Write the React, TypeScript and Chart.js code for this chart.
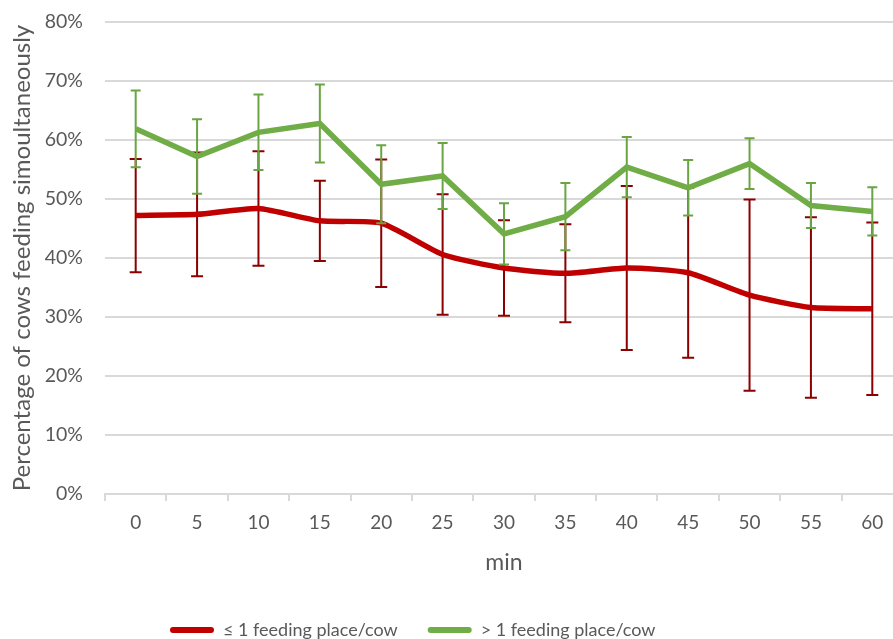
import React, { useEffect, useRef } from "react";
import { Chart, registerables } from "chart.js";

Chart.register(...registerables);

// ---- data ----
const minutes = ["0", "5", "10", "15", "20", "25", "30", "35", "40", "45", "50", "55", "60"];
const lowPlaceName = "≤ 1 feeding place/cow";
const highPlaceName = "> 1 feeding place/cow";
// percentage of cows feeding simultaneously (mean) and error (±)
const lowPlaceMean = [47.2, 47.4, 48.4, 46.3, 45.9, 40.6, 38.3, 37.4, 38.3, 37.5, 33.7, 31.6, 31.4];
const lowPlaceErr = [9.6, 10.5, 9.7, 6.8, 10.8, 10.2, 8.1, 8.3, 13.9, 14.4, 16.2, 15.3, 14.6];
const highPlaceMean = [61.9, 57.2, 61.3, 62.8, 52.5, 53.9, 44.1, 47.0, 55.4, 51.9, 56.0, 48.9, 47.9];
const highPlaceErr = [6.5, 6.3, 6.4, 6.6, 6.6, 5.6, 5.2, 5.7, 5.1, 4.7, 4.3, 3.8, 4.1];
const yMin = 0;
const yMax = 80;
const yStep = 10;

const FONT = "Lato, 'Open Sans', sans-serif";
const TEXT = "#595959";
const GRID = "#d9d9d9";
const RED = "#c00000";
const RED_ERR = "#8b0000";
const GREEN = "#70ad47";
const GREEN_ERR = "#6aa544";

const errorBarPlugin = {
  id: "errorBars",
  beforeDatasetDraw(chart: any, args: any) {
    const ds: any = chart.data.datasets[args.index];
    const errs: number[] | undefined = ds.errors;
    if (!errs) return;
    const meta = chart.getDatasetMeta(args.index);
    const yScale = chart.scales.y;
    const ctx = chart.ctx;
    ctx.save();
    ctx.strokeStyle = ds.errorColor;
    ctx.lineWidth = 2;
    const cap = ds.capHalf || 5;
    meta.data.forEach((pt: any, i: number) => {
      const v = ds.data[i];
      const e = errs[i];
      const x = pt.x;
      const yt = yScale.getPixelForValue(v + e);
      const yb = yScale.getPixelForValue(v - e);
      ctx.beginPath();
      ctx.moveTo(x, yt);
      ctx.lineTo(x, yb);
      ctx.moveTo(x - cap, yt);
      ctx.lineTo(x + cap, yt);
      ctx.moveTo(x - cap, yb);
      ctx.lineTo(x + cap, yb);
      ctx.stroke();
    });
    ctx.restore();
  },
};

const LEGEND_PAD = 30;
const legendShiftPlugin = {
  id: "legendShift",
  afterLayout(chart: any) {
    const lg = chart.legend;
    if (lg) {
      lg.left = 140;
    }
  },
};

export default function App() {
  const ref = useRef<HTMLCanvasElement | null>(null);

  useEffect(() => {
    if (!ref.current) return;
    const chart = new Chart(ref.current, {
      type: "line",
      data: {
        labels: minutes,
        datasets: [
          {
            label: lowPlaceName,
            data: lowPlaceMean,
            errors: lowPlaceErr,
            errorColor: RED_ERR,
            capHalf: 6,
            borderColor: RED,
            backgroundColor: RED,
            borderWidth: 5.5,
            pointRadius: 0,
            tension: 0.2,
            order: 1,
          } as any,
          {
            label: highPlaceName,
            data: highPlaceMean,
            errors: highPlaceErr,
            errorColor: GREEN_ERR,
            capHalf: 5,
            borderColor: GREEN,
            backgroundColor: GREEN,
            borderWidth: 5.5,
            pointRadius: 0,
            tension: 0,
            order: 0,
          } as any,
        ],
      },
      options: {
        responsive: false,
        animation: false,
        layout: { padding: { top: 22, right: 4, bottom: 1, left: 0 } },
        plugins: {
          tooltip: { enabled: false },
          legend: {
            position: "bottom",
            align: "start",
            labels: {
              font: { family: FONT, size: 18 },
              color: TEXT,
              boxWidth: 44,
              boxHeight: 6,
              padding: LEGEND_PAD,
              generateLabels(chart: any) {
                return chart.data.datasets.map((d: any, i: number) => ({
                  text: d.label,
                  fillStyle: d.borderColor,
                  strokeStyle: d.borderColor,
                  lineWidth: 0,
                  borderRadius: 3,
                  fontColor: TEXT,
                  hidden: false,
                  datasetIndex: i,
                }));
              },
            },
          },
        },
        scales: {
          x: {
            offset: true,
            afterFit(scale: any) {
              scale.height = 97;
            },
            grid: {
              offset: true,
              drawOnChartArea: false,
              drawTicks: true,
              tickLength: 7,
              color: GRID,
              lineWidth: 2,
            },
            border: { display: true, color: GRID, width: 2 },
            ticks: {
              font: { family: FONT, size: 19 },
              color: TEXT,
              padding: 10,
              maxRotation: 0,
            },
            title: {
              display: true,
              text: "min",
              font: { family: FONT, size: 23 },
              color: TEXT,
              padding: { top: 0, bottom: 15 },
            },
          },
          y: {
            min: yMin,
            max: yMax,
            afterFit(scale: any) {
              scale.width = 105;
            },
            grid: {
              color: GRID,
              lineWidth: 2,
              drawTicks: true,
              tickLength: 17,
              tickColor: "rgba(0,0,0,0)",
            },
            border: { display: false },
            ticks: {
              stepSize: yStep,
              font: { family: FONT, size: 19.5 },
              color: TEXT,
              padding: 5,
              callback: (v: any) => `${v}%`,
            },
            title: {
              display: true,
              text: "Percentage of cows feeding simoultaneously",
              font: { family: FONT, size: 24 },
              color: TEXT,
              padding: { top: 8, bottom: 0 },
            },
          },
        },
      } as any,
      plugins: [errorBarPlugin, legendShiftPlugin],
    });
    return () => chart.destroy();
  }, []);

  return (
    <div
      style={{
        position: "fixed",
        left: 0,
        top: 0,
        width: 893,
        height: 639,
        overflow: "hidden",
        background: "#fff",
      }}
    >
      <canvas ref={ref} width={907} height={650} style={{ display: "block" }} />
    </div>
  );
}
